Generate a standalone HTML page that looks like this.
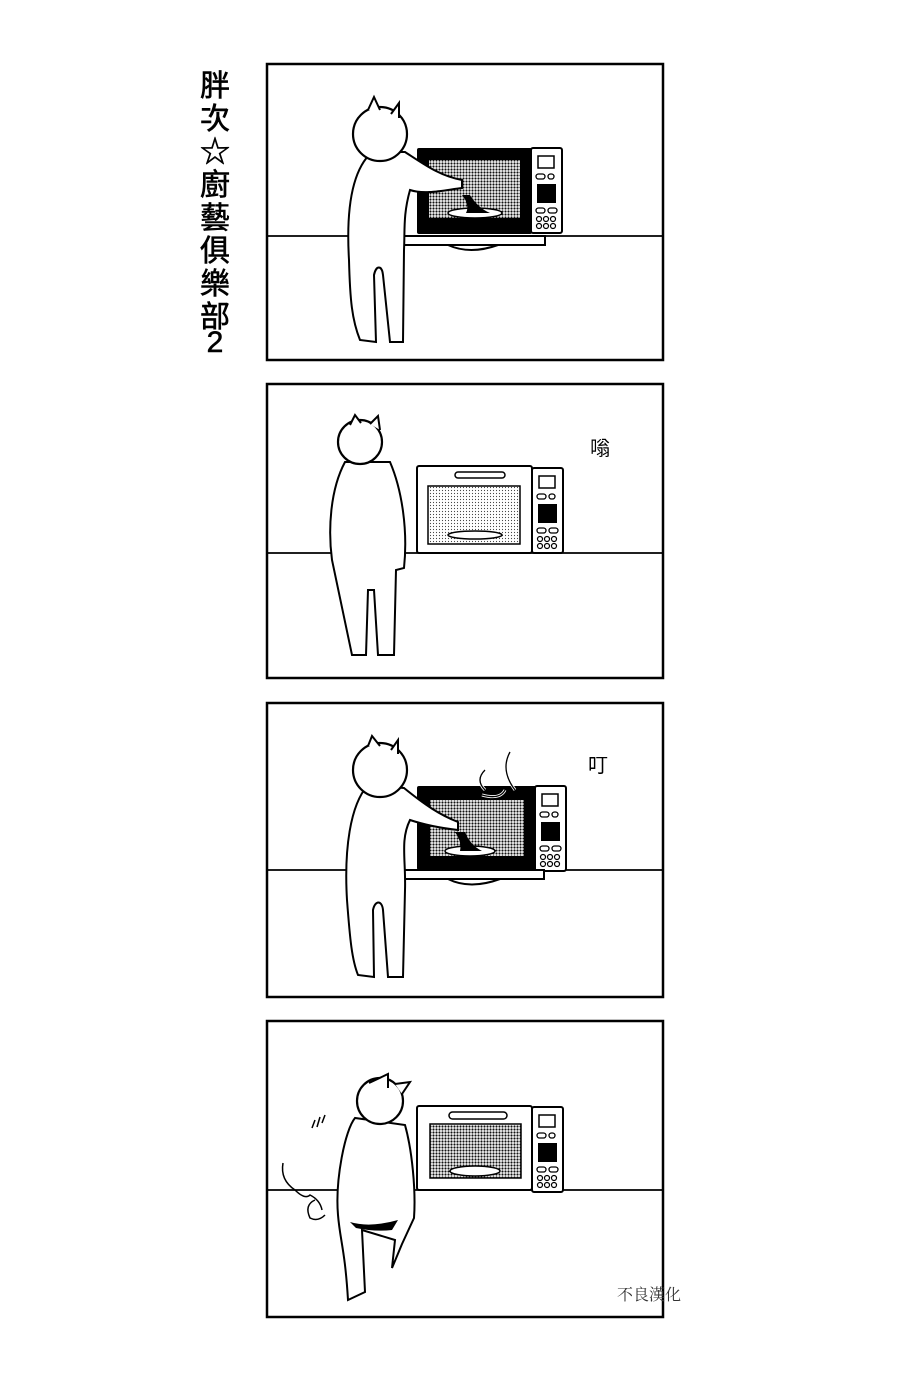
<!DOCTYPE html>
<html><head><meta charset="utf-8"><style>
html,body{margin:0;padding:0;background:#fff;width:900px;height:1378px;overflow:hidden}
</style></head><body>
<svg width="900" height="1378" viewBox="0 0 900 1378" xmlns="http://www.w3.org/2000/svg">
<defs>
<pattern id="ht" width="3" height="3" patternUnits="userSpaceOnUse"><rect width="3" height="3" fill="#fff"/><circle cx="1.5" cy="1.5" r="1.1" fill="#111"/></pattern>
<pattern id="ht2" width="3" height="3" patternUnits="userSpaceOnUse"><rect width="3" height="3" fill="#fff"/><circle cx="1.5" cy="1.5" r="0.6" fill="#444"/></pattern>
<g id="ctrl">
<rect x="0" y="0" width="31" height="85" fill="#fff" stroke="#000" stroke-width="2" rx="2"/>
<rect x="7" y="8" width="16" height="12" fill="#fff" stroke="#000" stroke-width="1.5"/>
<rect x="5" y="26" width="9" height="5" rx="2.5" fill="none" stroke="#000" stroke-width="1.3"/>
<rect x="17" y="26" width="6" height="5" rx="2.5" fill="none" stroke="#000" stroke-width="1.3"/>
<rect x="6" y="36" width="19" height="19" fill="#000"/>
<rect x="5" y="60" width="9" height="5" rx="2.5" fill="none" stroke="#000" stroke-width="1.3"/>
<rect x="17" y="60" width="9" height="5" rx="2.5" fill="none" stroke="#000" stroke-width="1.3"/>
<circle cx="8" cy="71" r="2.5" fill="none" stroke="#000" stroke-width="1.2"/><circle cx="15" cy="71" r="2.5" fill="none" stroke="#000" stroke-width="1.2"/><circle cx="22" cy="71" r="2.5" fill="none" stroke="#000" stroke-width="1.2"/>
<circle cx="8" cy="78" r="2.5" fill="none" stroke="#000" stroke-width="1.2"/><circle cx="15" cy="78" r="2.5" fill="none" stroke="#000" stroke-width="1.2"/><circle cx="22" cy="78" r="2.5" fill="none" stroke="#000" stroke-width="1.2"/>
</g>
</defs>
<g fill="none" stroke="#000" stroke-width="2.5">
<rect x="267" y="64" width="396" height="296"/>
<rect x="267" y="384" width="396" height="294"/>
<rect x="267" y="703" width="396" height="294"/>
<rect x="267" y="1021" width="396" height="296"/>
</g>
<g stroke="#000" stroke-width="1.8">
<line x1="267" y1="236" x2="663" y2="236"/>
<line x1="267" y1="553" x2="663" y2="553"/>
<line x1="267" y1="870" x2="663" y2="870"/>
<line x1="267" y1="1190" x2="663" y2="1190"/>
</g>
<g font-family="'Liberation Sans','Noto Sans CJK TC',sans-serif" font-size="30" fill="#000" stroke="#000" stroke-width="0.6" text-anchor="middle">
<text x="215" y="96">胖</text>
<text x="215" y="129">次</text>
<text x="215" y="162">☆</text>
<text x="215" y="195">廚</text>
<text x="215" y="228">藝</text>
<text x="215" y="261">俱</text>
<text x="215" y="294">樂</text>
<text x="215" y="327">部</text>
<text x="215" y="352">2</text>
</g>

<!-- Panel 1 -->
<g>
<rect x="417" y="148" width="115" height="86" fill="#000" rx="2"/>
<rect x="429" y="160" width="91" height="58" fill="url(#ht)"/>
<ellipse cx="475" cy="213" rx="27" ry="5" fill="#fff" stroke="#000" stroke-width="1.5"/>
<path d="M462 195 Q470 205 466 213 L490 213 Q478 208 470 195 Z" fill="#000"/>
<use href="#ctrl" x="531" y="148"/>
<rect x="400" y="236" width="145" height="9" fill="#fff" stroke="#000" stroke-width="2"/>
<path d="M448 245 Q470 255 498 245" fill="none" stroke="#000" stroke-width="2"/>
<path d="M372 152 C352 170 346 210 349 260 C350 300 352 320 360 340 L376 342 L374 275 C376 265 382 265 383 275 L390 342 L403 342 L404 250 C405 230 403 215 410 190 C425 195 445 190 462 188 L462 180 C440 176 425 165 405 152 Z" fill="#fff" stroke="#000" stroke-width="2"/>
<circle cx="380" cy="134" r="27" fill="#fff" stroke="#000" stroke-width="2.2"/>
<path d="M368 110 L374 97 L380 110 M391 114 L399 103 L399 118" fill="#fff" stroke="#000" stroke-width="2"/>
</g>

<!-- Panel 2 -->
<g>
<rect x="417" y="466" width="115" height="87" fill="#fff" stroke="#000" stroke-width="2" rx="2"/>
<rect x="455" y="472" width="50" height="6" rx="3" fill="none" stroke="#000" stroke-width="1.5"/>
<rect x="428" y="486" width="92" height="58" fill="url(#ht2)" stroke="#000" stroke-width="1.5"/>
<ellipse cx="475" cy="535" rx="27" ry="4" fill="#fff" stroke="#000" stroke-width="1.5"/>
<use href="#ctrl" x="532" y="468"/>
<path d="M345 462 C330 490 328 530 332 560 L352 655 L366 655 L368 590 L374 590 L378 655 L394 655 L396 570 L404 568 C408 530 402 490 390 462 Z" fill="#fff" stroke="#000" stroke-width="2"/>
<circle cx="360" cy="442" r="22" fill="#fff" stroke="#000" stroke-width="2.2"/>
<path d="M350 425 L355 415 L361 423 M370 424 L378 416 L380 430" fill="#fff" stroke="#000" stroke-width="2"/>
<text x="590" y="455" font-family="'Liberation Sans','Noto Sans CJK TC',sans-serif" font-size="20" fill="#000">嗡</text>
</g>

<!-- Panel 3 -->
<g>
<rect x="417" y="786" width="120" height="84" fill="#000" rx="2"/>
<rect x="430" y="800" width="94" height="56" fill="url(#ht)"/>
<ellipse cx="470" cy="851" rx="25" ry="5" fill="#fff" stroke="#000" stroke-width="1.5"/>
<path d="M455 832 Q462 842 460 851 L482 851 Q470 845 465 832 Z" fill="#000"/>
<path d="M485 770 Q475 780 485 790 M510 752 Q500 770 515 790 M482 795 Q500 800 505 790" fill="none" stroke="#fff" stroke-width="3"/>
<path d="M485 770 Q475 780 485 790 M510 752 Q500 770 515 790 M482 795 Q500 800 505 790" fill="none" stroke="#000" stroke-width="1.3"/>
<use href="#ctrl" x="535" y="786"/>
<rect x="404" y="870" width="140" height="9" fill="#fff" stroke="#000" stroke-width="2"/>
<path d="M448 879 Q470 890 500 879" fill="none" stroke="#000" stroke-width="2"/>
<path d="M368 785 C350 805 344 850 347 900 C350 940 352 960 358 975 L374 977 L373 910 C375 900 382 900 383 910 L388 977 L403 977 L405 890 C406 860 400 840 410 820 C425 825 440 828 458 830 L458 822 C440 815 425 805 404 788 Z" fill="#fff" stroke="#000" stroke-width="2"/>
<circle cx="380" cy="770" r="27" fill="#fff" stroke="#000" stroke-width="2.2"/>
<path d="M368 746 L372 736 L380 746 M391 750 L398 740 L398 754" fill="#fff" stroke="#000" stroke-width="2"/>
<text x="588" y="772" font-family="'Liberation Sans','Noto Sans CJK TC',sans-serif" font-size="20" fill="#000">叮</text>
</g>

<!-- Panel 4 -->
<g>
<rect x="417" y="1106" width="115" height="84" fill="#fff" stroke="#000" stroke-width="2" rx="2"/>
<rect x="449" y="1112" width="58" height="7" rx="3.5" fill="none" stroke="#000" stroke-width="1.5"/>
<rect x="430" y="1124" width="91" height="54" fill="url(#ht)" stroke="#000" stroke-width="1.5"/>
<ellipse cx="475" cy="1171" rx="25" ry="5" fill="#fff" stroke="#000" stroke-width="1.5"/>
<use href="#ctrl" x="532" y="1107"/>
<path d="M283 1163 Q280 1180 295 1190 Q305 1200 310 1195 Q320 1200 322 1210 M315 1200 Q304 1205 310 1218 Q318 1222 325 1215" fill="none" stroke="#000" stroke-width="1.5"/>
<path d="M315 1120 L312 1128 M320 1117 L317 1127 M325 1115 L322 1123" stroke="#000" stroke-width="1.5"/>
<path d="M355 1118 C345 1130 335 1180 338 1215 C340 1240 345 1250 348 1300 L365 1292 L362 1230 L395 1240 L392 1268 L402 1244 L414 1218 C416 1190 412 1150 405 1125 Z" fill="#fff" stroke="#000" stroke-width="2"/>
<path d="M350 1222 Q370 1228 398 1220 L392 1230 Q375 1232 356 1228 Z" fill="#000"/>
<circle cx="380" cy="1101" r="23" fill="#fff" stroke="#000" stroke-width="2.2"/>
<path d="M369 1083 L388 1074 L388 1088 M395 1084 L410 1082 L402 1094" fill="#fff" stroke="#000" stroke-width="2"/>
<text x="617" y="1300" font-family="'Liberation Serif','Noto Serif CJK SC',serif" font-size="16" fill="#333">不良漢化</text>
</g>
</svg>
</body></html>
